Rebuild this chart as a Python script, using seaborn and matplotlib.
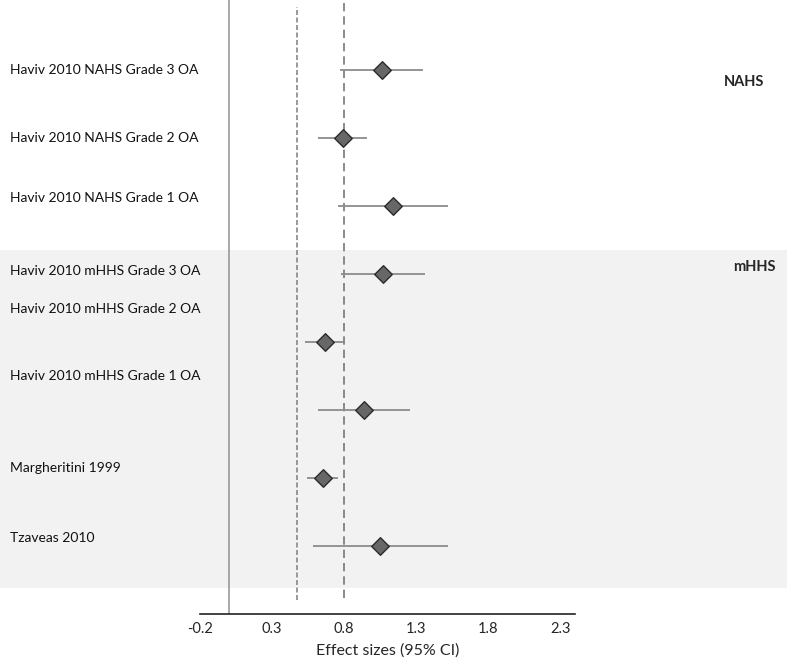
import pandas as pd
import matplotlib.pyplot as plt
import matplotlib.transforms as mtransforms
import seaborn as sns

# forest plot data
studies = ["Haviv 2010 NAHS Grade 3 OA", "Haviv 2010 NAHS Grade 2 OA",
           "Haviv 2010 NAHS Grade 1 OA", "Haviv 2010 mHHS Grade 3 OA",
           "Haviv 2010 mHHS Grade 2 OA", "Haviv 2010 mHHS Grade 1 OA",
           "Margheritini 1999", "Tzaveas 2010"]
effect = [1.06, 0.79, 1.14, 1.07, 0.67, 0.94, 0.65, 1.05]
ci_low = [0.77, 0.62, 0.76, 0.78, 0.53, 0.62, 0.54, 0.58]
ci_high = [1.345, 0.956, 1.52, 1.36, 0.805, 1.257, 0.755, 1.52]
label_shift = [0, 0, -0.12, -0.04, -0.49, -0.5, -0.15, -0.12]
groups = ["NAHS", "mHHS"]
x_ticks = [-0.2, 0.3, 0.8, 1.3, 1.8, 2.3]

def main():
    df = pd.DataFrame({"study": studies, "effect": effect,
                       "lo": ci_low, "hi": ci_high})
    df["row"] = range(len(df))

    sns.set_style("white")
    plt.rcParams["font.family"] = ["Lato", "DejaVu Sans"]
    fig = plt.figure(figsize=(7.87, 6.6), dpi=100)
    ax = fig.add_axes([200 / 787, 1 - 614 / 660, 375 / 787, 614 / 660])
    ax.set_xlim(-0.2, 2.4)
    ax.set_ylim(8.0, -1.03)

    # shaded band for the mHHS block, full figure width
    trans = mtransforms.blended_transform_factory(fig.transFigure, ax.transData)
    band = plt.Rectangle((0, 2.65), 1, 4.97, transform=trans,
                         facecolor="#f2f2f2", edgecolor="none",
                         clip_on=False, zorder=0)
    ax.add_patch(band)

    ax.axvline(0, color="#999999", lw=1.2, zorder=1)
    ax.axvline(0.8, ymin=(8.0 - 7.76) / 9.03, ymax=1, color="#777777",
               lw=1.2, ls=(0, (5, 3)), zorder=1)
    ax.axvline(0.47, ymin=(8.0 - 7.79) / 9.03, ymax=1 - 0.1 / 9.03,
               color="#888888", lw=1.2, ls=(0, (3, 1.5)), zorder=1)

    ax.hlines(df["row"], df["lo"], df["hi"], color="#8c8c8c", lw=1.3, zorder=2)
    sns.scatterplot(data=df, x="effect", y="row", marker="D", s=80,
                    color="#676767", edgecolor="#2b2b2b", linewidth=1,
                    zorder=3, ax=ax)

    for i, name in enumerate(studies):
        ax.text(10 / 787, i + label_shift[i], name, transform=trans,
                ha="left", va="center", fontsize=10, color="#111111")
    ax.text(764 / 787, 0.17, groups[0], transform=trans, ha="right",
            va="center", fontsize=10.5, fontweight="bold")
    ax.text(776 / 787, 2.9, groups[1], transform=trans, ha="right",
            va="center", fontsize=10.5, fontweight="bold")

    sns.despine(ax=ax, left=True, top=True, right=True)
    ax.spines["bottom"].set_color("#222222")
    ax.spines["bottom"].set_linewidth(1.2)
    ax.set_yticks([])
    ax.set_xticks(x_ticks)
    ax.set_xticklabels([f"{t:.1f}" for t in x_ticks], fontsize=10.5)
    ax.tick_params(axis="x", length=0, pad=6)
    ax.set_xlabel("Effect sizes (95% CI)", fontsize=11.5, labelpad=5)
    ax.set_ylabel("")
    fig.savefig("out.png", dpi=100)

if __name__ == "__main__":
    main()
